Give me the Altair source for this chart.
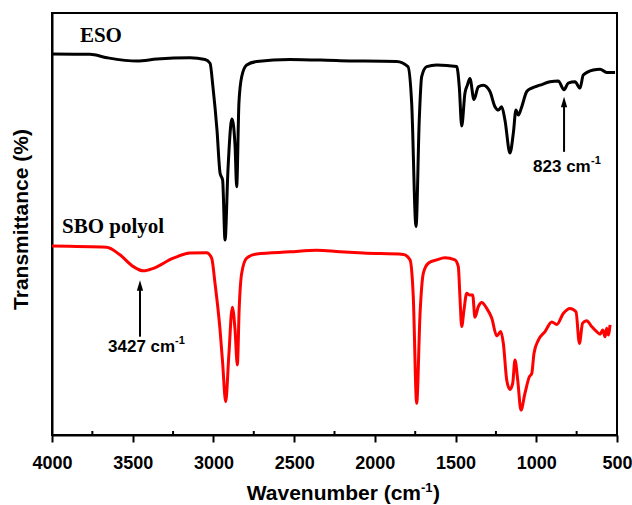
import altair as alt
import pandas as pd

# ---- data (wavenumber cm-1, transmittance in arbitrary %) ----
eso_wn = [4000, 3765, 3659, 3473, 3349, 3145, 3052, 3021, 3003, 2978, 2959, 2943, 2928,
          2910, 2885, 2866, 2856, 2842, 2825, 2794, 2732, 2526, 2216, 1865, 1795, 1772,
          1745, 1725, 1710, 1679, 1617, 1493, 1477, 1462, 1442, 1427, 1411, 1386, 1359,
          1328, 1287, 1256, 1235, 1214, 1194, 1163, 1142, 1126, 1111, 1090, 1059, 1028,
          977, 915, 864, 828, 802, 760, 729, 709, 647, 605, 564, 512]
eso_t = [90.3, 90.2, 89.4, 88.6, 89.1, 89.4, 89.0, 88.1, 82.5, 72.3, 62.1, 60.4, 46.2,
         62.8, 74.9, 68.5, 58.8, 78.7, 84.9, 87.7, 88.5, 89.0, 88.7, 88.5, 87.3, 78.7,
         49.4, 74.6, 84.9, 87.3, 87.7, 87.3, 82.5, 73.2, 81.0, 82.9, 84.5, 79.5, 82.5,
         82.9, 81.4, 77.8, 77.0, 77.8, 74.6, 66.8, 71.6, 77.0, 75.8, 77.8, 81.4, 82.2,
         82.9, 83.7, 83.9, 81.8, 83.4, 83.7, 82.2, 85.3, 86.5, 86.7, 85.9, 85.9]

sbo_wn = [4000, 3661, 3579, 3496, 3434, 3372, 3249, 3145, 3042, 3011, 2990, 2959, 2943,
          2924, 2905, 2883, 2866, 2852, 2840, 2825, 2794, 2732, 2526, 2360, 2216, 2072,
          1824, 1782, 1762, 1741, 1720, 1700, 1669, 1617, 1566, 1504, 1483, 1473, 1462,
          1448, 1431, 1415, 1394, 1380, 1359, 1338, 1307, 1276, 1245, 1220, 1204, 1183,
          1163, 1146, 1132, 1115, 1095, 1070, 1043, 1028, 1014, 987, 946, 904, 873, 833,
          791, 754, 733, 713, 688, 657, 626, 605, 588, 574, 564, 554, 543]
sbo_t = [44.8, 44.5, 42.7, 39.9, 38.9, 39.5, 41.9, 43.1, 43.2, 41.9, 35.9, 24.9, 17.1,
         7.9, 18.6, 30.3, 24.9, 16.6, 30.4, 38.3, 41.9, 42.9, 43.4, 43.8, 43.4, 43.1,
         42.8, 41.5, 32.8, 7.5, 28.8, 38.3, 40.7, 41.5, 42.0, 41.5, 39.9, 32.8, 25.7,
         29.6, 33.6, 33.2, 33.2, 27.9, 30.4, 31.4, 30.0, 27.7, 23.5, 24.5, 21.7, 13.0,
         10.8, 12.3, 17.8, 13.0, 5.9, 9.9, 13.8, 14.6, 19.4, 22.5, 24.5, 26.8, 26.2, 28.8,
         30.0, 29.2, 21.7, 26.5, 27.1, 25.7, 24.5, 23.9, 24.9, 23.3, 25.3, 23.7, 26.1]

series_names = ["ESO", "SBO polyol"]
series_colors = ["#000000", "#ff0000"]

x_ticks = [4000, 3500, 3000, 2500, 2000, 1500, 1000, 500]
minor_ticks = [3750, 3250, 2750, 2250, 1750, 1250, 750]

# series labels (serif, bold)
label_text = ["ESO", "SBO polyol"]
label_wn = [3827, 3938]
label_t = [94.5, 49.3]

# peak annotations
peak_text = ["823 cm", "3427 cm"]
peak_wn = [1020, 3653]
peak_t = [63.6, 20.9]
peak_sup_dx = [58, 67]
arrow_wn = [828, 3455]
arrow_t_low = [67.1, 23.3]
arrow_t_high = [78.0, 34.3]
arrow_t_head = [78.9, 35.4]

W, H = 565, 422
SANS = "Liberation Sans"
SERIF = "Liberation Serif"

df = pd.concat([
    pd.DataFrame({"wn": eso_wn, "T": eso_t, "series": series_names[0]}),
    pd.DataFrame({"wn": sbo_wn, "T": sbo_t, "series": series_names[1]}),
], ignore_index=True)

xscale = alt.Scale(domain=[500, 4000], reverse=True, nice=False, zero=False)
yscale = alt.Scale(domain=[0, 100], nice=False, zero=False)

xaxis = alt.Axis(
    values=x_ticks, title="", format="d", grid=False,
    labelFont=SANS, labelFontSize=18, labelFontWeight="bold", labelColor="black",
    labelPadding=12, tickSize=7, tickWidth=2, tickColor="black",
    domainColor="black", domainWidth=2, labelFlush=False)
yaxis = alt.Axis(
    title="Transmittance (%)", labels=False, ticks=False, grid=False,
    domainColor="black", domainWidth=2,
    titleFont=SANS, titleFontSize=21, titleFontWeight="bold", titleColor="black",
    titleAngle=270, titleAlign="center", titleBaseline="middle",
    titleX=-31, titleY=206)


def X(field):
    return alt.X(field, type="quantitative", scale=xscale, axis=xaxis)


def Y(field):
    return alt.Y(field, type="quantitative", scale=yscale, axis=yaxis)


lines = alt.Chart(df).mark_line(strokeWidth=3, interpolate="monotone").encode(
    x=X("wn"), y=Y("T"),
    color=alt.Color("series:N", scale=alt.Scale(domain=series_names, range=series_colors),
                    legend=None),
    order=alt.Order("wn:Q", sort="descending"),
)

minor = alt.Chart(pd.DataFrame({"wn": minor_ticks})).mark_rule(
    color="black", strokeWidth=2).encode(
    x=X("wn"), y=alt.value(H), y2=alt.value(H - 4))

labels = alt.Chart(pd.DataFrame({"text": label_text, "wn": label_wn, "T": label_t})).mark_text(
    font=SERIF, fontSize=21, fontWeight="bold", align="left", baseline="middle",
    color="black").encode(x=X("wn"), y=Y("T"), text="text:N")

peaks_df = pd.DataFrame({"text": peak_text, "wn": peak_wn, "T": peak_t})
peak_main = alt.Chart(peaks_df).mark_text(
    font=SANS, fontSize=17, fontWeight="bold", align="left", baseline="middle",
    color="black").encode(x=X("wn"), y=Y("T"), text="text:N")

sup_layers = []
for i in range(len(peak_text)):
    sup_layers.append(
        alt.Chart(pd.DataFrame({"wn": [peak_wn[i]], "T": [peak_t[i]]})).mark_text(
            text="-1", font=SANS, fontSize=11, fontWeight="bold", align="left",
            baseline="middle", color="black", dx=peak_sup_dx[i], dy=-6).encode(
            x=X("wn"), y=Y("T")))

arrows_df = pd.DataFrame({"wn": arrow_wn, "lo": arrow_t_low, "hi": arrow_t_high,
                          "head": arrow_t_head})
arrow_lines = alt.Chart(arrows_df).mark_rule(color="black", strokeWidth=2).encode(
    x=X("wn"), y=Y("lo"), y2="hi:Q")
arrow_heads = alt.Chart(arrows_df).mark_point(
    shape="M0,-1L0.6,1L-0.6,1Z", filled=True, color="black", size=110, opacity=1,
    strokeWidth=0).encode(x=X("wn"), y=Y("head"))

# x-axis title with superscript, drawn as text pieces
xt_main = alt.Chart(pd.DataFrame({"a": [0]})).mark_text(
    text="Wavenumber (cm", font=SANS, fontSize=21, fontWeight="bold", align="right",
    baseline="alphabetic", color="black").encode(x=alt.value(369), y=alt.value(487))
xt_sup = alt.Chart(pd.DataFrame({"a": [0]})).mark_text(
    text="-1", font=SANS, fontSize=13, fontWeight="bold", align="left",
    baseline="alphabetic", color="black").encode(x=alt.value(369), y=alt.value(479))
xt_end = alt.Chart(pd.DataFrame({"a": [0]})).mark_text(
    text=")", font=SANS, fontSize=21, fontWeight="bold", align="left",
    baseline="alphabetic", color="black").encode(x=alt.value(381), y=alt.value(487))

chart = alt.layer(
    lines, minor, labels, peak_main, *sup_layers, arrow_lines, arrow_heads,
    xt_main, xt_sup, xt_end
).properties(
    width=W, height=H,
    autosize=alt.AutoSizeParams(type="none"),
    padding={"left": 52, "top": 13, "right": 15, "bottom": 70},
).configure_view(stroke="black", strokeWidth=2)

chart.save("out.html", embed_options={"renderer": "svg", "actions": False})
